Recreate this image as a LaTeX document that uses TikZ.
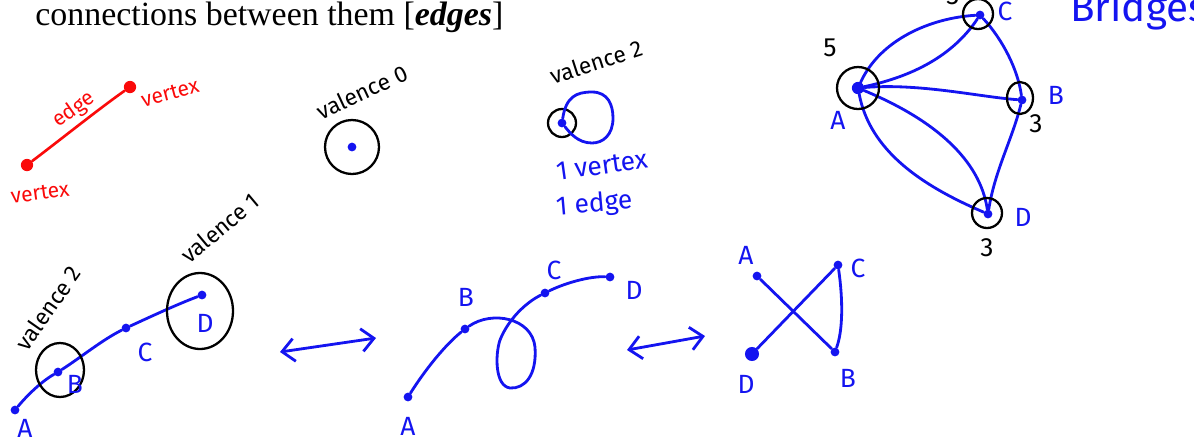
\documentclass[tikz,border=0pt]{standalone}
\usepackage{fontspec}
\setmainfont{Liberation Serif}
\newfontfamily\hand{Fira Sans}
\usetikzlibrary{arrows.meta}
\definecolor{hblue}{RGB}{20,20,240}
\definecolor{hred}{RGB}{250,10,10}
\begin{document}
\begin{tikzpicture}[x=0.02cm,y=-0.02cm,
  bl/.style={draw=hblue,line width=1.6pt,line cap=round,line join=round},
  rd/.style={draw=hred,line width=1.5pt,line cap=round},
  ring/.style={draw=black,line width=1.3pt},
  bdot/.style={circle,fill=hblue,inner sep=0pt,minimum size=5pt},
  rdot/.style={circle,fill=hred,inner sep=0pt,minimum size=7pt},
  blbl/.style={font=\hand\fontsize{15}{15}\selectfont,text=hblue,inner sep=0pt},
  klbl/.style={font=\hand\fontsize{15}{15}\selectfont,text=black,inner sep=0pt},
  vlbl/.style={font=\hand\fontsize{13}{13}\selectfont,text=black,inner sep=0pt},
  rlbl/.style={font=\hand\fontsize{12}{12}\selectfont,text=hred,inner sep=0pt},
  darr/.style={bl,{Straight Barb[length=7pt,width=13pt]}-{Straight Barb[length=7pt,width=13pt]}}
]
\useasboundingbox (0,0) rectangle (1194,444);
\clip (0,0) rectangle (1194,444);

% title
\node[anchor=base west,inner sep=0pt,font=\fontsize{19.3}{21}\selectfont] (title) at (35,25) {connections between them [\textbf{\textit{edges}}]};

% red edge / vertex
\node[rdot] (rv1) at (27,165) {};
\node[rdot] (rv2) at (130,87) {};
\draw[rd] (rv1) .. controls (60,140) and (100,108) .. (rv2);
\node[rlbl,rotate=35] (redge) at (74,110) {edge};
\node[rlbl,rotate=15] (rvert2) at (170,93) {vertex};
\node[rlbl,rotate=8] (rvert1) at (40,193) {vertex};

% valence 0
\node[bdot] (v0) at (352,147) {};
\draw[ring] (v0) circle[radius=27];
\node[vlbl,rotate=25] (val0) at (362,92) {valence 0};

% valence 2 loop
\node[bdot] (v2) at (562,123) {};
\draw[ring] (v2) circle[radius=14];
\draw[bl] (v2) .. controls (566,97) and (576,92) .. (592,92) .. controls (608,92) and (613,105) .. (613,118) .. controls (613,135) and (603,143) .. (592,143) .. controls (578,143) and (570,133) .. (v2);
\node[vlbl,rotate=18] (val2) at (596,62) {valence 2};
\node[blbl,rotate=8,anchor=west] (onev) at (556,172) {1 vertex};
\node[blbl,rotate=5,anchor=west] (onee) at (556,208) {1 edge};

% Bridges graph
\node[bdot,minimum size=7pt] (bA) at (858,88) {};
\node[bdot] (bC) at (980,15) {};
\node[bdot] (bB) at (1022,100) {};
\node[bdot] (bD) at (988,214) {};
\draw[bl] (bA) .. controls (880,40) and (930,18) .. (bC);
\draw[bl] (bA) .. controls (905,78) and (950,60) .. (bC);
\draw[bl] (bA) .. controls (920,83) and (980,97) .. (bB);
\draw[bl] (bA) .. controls (870,150) and (920,185) .. (bD);
\draw[bl] (bA) .. controls (935,120) and (980,160) .. (bD);
\draw[bl] (bC) .. controls (1003,40) and (1018,70) .. (bB);
\draw[bl] (bB) .. controls (1012,140) and (995,170) .. (bD);
\draw[ring] (bA) circle[radius=21];
\draw[ring] (978,14) circle[radius=15];
\draw[ring] (1020,98) ellipse[x radius=13,y radius=16];
\draw[ring] (987,213) circle[radius=15];
\node[klbl] (five) at (830,48) {5};
\node[blbl] (lbA) at (838,120) {A};
\node[blbl] (lbC) at (1005,11) {C};
\node[blbl] (lbB) at (1056,95) {B};
\node[klbl] (threeB) at (1036,124) {3};
\node[blbl] (lbD) at (1023,217) {D};
\node[klbl] (threeD) at (987,248) {3};
\node[klbl] (threeC) at (953,-4) {3};
\node[font=\hand\fontsize{23}{23}\selectfont,text=hblue,inner sep=0pt,anchor=west] (brid) at (1070,10) {Bridges};

% bottom-left path
\node[bdot] (pA) at (15,410) {};
\node[bdot] (pB) at (58,372) {};
\node[bdot] (pC) at (126,328) {};
\node[bdot] (pD) at (202,295) {};
\draw[bl] (pA) .. controls (30,392) and (44,380) .. (pB) .. controls (80,358) and (102,340) .. (pC) .. controls (152,316) and (178,304) .. (pD);
\draw[ring] (60,370) ellipse[x radius=24,y radius=27];
\draw[ring] (200,311) ellipse[x radius=33,y radius=38];
\node[blbl] (plA) at (25,428) {A};
\node[blbl] (plB) at (75,384) {B};
\node[blbl] (plC) at (145,352) {C};
\node[blbl] (plD) at (205,323) {D};
\node[vlbl,rotate=55] (pval2) at (48,308) {valence 2};
\node[vlbl,rotate=40] (pval1) at (220,228) {valence 1};

% arrow 1
\coordinate (a1s) at (280,352);
\coordinate (a1e) at (376,338);
\draw[darr] (a1s) -- (a1e);

% middle graph
\node[bdot] (mA) at (408,397) {};
\node[bdot] (mB) at (465,329) {};
\node[bdot] (mC) at (545,293) {};
\node[bdot] (mD) at (610,277) {};
\draw[bl] (mA) .. controls (425,370) and (445,345) .. (mB) .. controls (492,310) and (532,318) .. (535,347) .. controls (537,375) and (525,389) .. (510,388) .. controls (495,386) and (495,355) .. (500,340) .. controls (508,320) and (525,303) .. (mC) .. controls (565,283) and (590,276) .. (mD);
\node[blbl] (mlA) at (408,426) {A};
\node[blbl] (mlB) at (466,297) {B};
\node[blbl] (mlC) at (554,270) {C};
\node[blbl] (mlD) at (634,290) {D};

% arrow 2
\coordinate (a2s) at (627,350);
\coordinate (a2e) at (705,336);
\draw[darr] (a2s) -- (a2e);

% right small graph
\node[bdot] (rA) at (757,276) {};
\node[bdot] (rC) at (838,265) {};
\node[bdot] (rB) at (835,352) {};
\node[bdot,minimum size=8pt] (rD) at (752,354) {};
\draw[bl] (rA) -- (rB);
\draw[bl] (rD) -- (rC);
\draw[bl] (rC) .. controls (843,300) and (843,330) .. (rB);
\node[blbl] (rlA) at (746,255) {A};
\node[blbl] (rlC) at (858,268) {C};
\node[blbl] (rlB) at (848,378) {B};
\node[blbl] (rlD) at (746,384) {D};
\end{tikzpicture}
\end{document}
